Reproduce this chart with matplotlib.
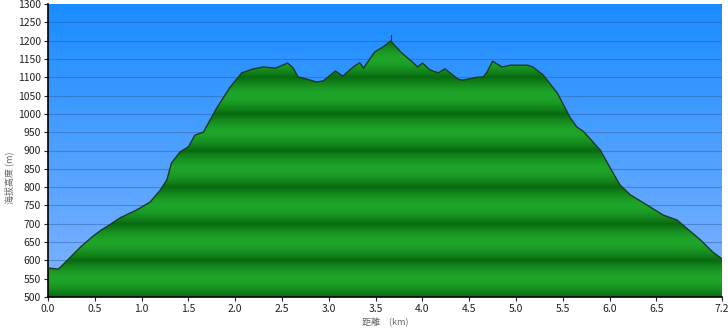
import numpy as np
import matplotlib
matplotlib.use("Agg")
import matplotlib.pyplot as plt
from matplotlib.colors import LinearSegmentedColormap

plt.rcParams['font.family'] = ['Noto Sans CJK TC', 'DejaVu Sans']

dist = [0.0, 0.05, 0.11, 0.21, 0.35, 0.48, 0.57, 0.64, 0.77, 0.95, 1.09, 1.2,
        1.27, 1.32, 1.41, 1.5, 1.57, 1.66, 1.8, 1.94, 2.07, 2.18, 2.3, 2.43,
        2.48, 2.56, 2.62, 2.67, 2.72, 2.87, 2.94, 3.07, 3.15, 3.26, 3.33, 3.37,
        3.49, 3.58, 3.66, 3.78, 3.89, 3.95, 4.0, 4.08, 4.17, 4.24, 4.38, 4.43,
        4.58, 4.65, 4.69, 4.75, 4.85, 4.94, 5.12, 5.18, 5.29, 5.44, 5.58, 5.65,
        5.72, 5.9, 6.0, 6.11, 6.22, 6.4, 6.57, 6.72, 6.78, 6.97, 7.1, 7.2]
alt = [579, 578, 576, 601, 637, 666, 683, 694, 716, 738, 759, 792,
       820, 866, 896, 910, 942, 950, 1015, 1071, 1112, 1122, 1128, 1125,
       1130, 1139, 1125, 1101, 1098, 1087, 1090, 1117, 1103, 1128, 1140, 1125,
       1169, 1183, 1199, 1166, 1142, 1128, 1139, 1120, 1112, 1123, 1095, 1092,
       1100, 1101, 1114, 1144, 1128, 1133, 1133, 1128, 1106, 1057, 989, 964,
       952, 901, 855, 806, 779, 751, 724, 710, 697, 656, 623, 604]

x_ticks = [0.0, 0.5, 1.0, 1.5, 2.0, 2.5, 3.0, 3.5, 4.0, 4.5, 5.0, 5.5, 6.0, 6.5, 7.2]
y_ticks = list(range(500, 1301, 50))

fig = plt.figure(figsize=(7.28, 3.28), dpi=100)
ax = fig.add_axes([48 / 728, 31 / 328, 674 / 728, 293 / 328])
ax.set_xlim(0, 7.2)
ax.set_ylim(500, 1300)

# ciel en dégradé
sky = LinearSegmentedColormap.from_list("sky", ["#82b4ff", "#1a8cff"])
ax.imshow(np.linspace(0, 1, 256).reshape(-1, 1), cmap=sky, origin="lower",
          extent=[0, 7.2, 500, 1300], aspect="auto", zorder=0)

# lignes de grille
for v in y_ticks[1:-1]:
    ax.axhline(v, color="#2a5a9a", lw=0.8, alpha=0.45, zorder=1)

# relief avec bandes vertes (sombre aux centaines, clair aux cinquantaines)
yy = np.linspace(500, 1300, 1600)
band = np.abs((yy % 100) - 50) / 50.0
band = band ** 1.6
green = LinearSegmentedColormap.from_list("green", ["#1fa52a", "#086a10"])
im = ax.imshow(band.reshape(-1, 1), cmap=green, origin="lower",
               extent=[0, 7.2, 500, 1300], aspect="auto", zorder=2)
poly = ax.fill_between(dist, alt, 500, color="none", lw=0, zorder=2)
im.set_clip_path(poly.get_paths()[0], transform=ax.transData)
ax.plot(dist, alt, color="#1c3a22", lw=1.0, zorder=3)

# repère du sommet
i_top = int(np.argmax(alt))
ax.plot([dist[i_top], dist[i_top]], [alt[i_top], alt[i_top] + 15],
        color="#1c3a22", lw=0.8, zorder=3)

ax.set_xticks(x_ticks)
ax.set_xticklabels(["%.1f" % t for t in x_ticks])
ax.set_yticks(y_ticks)
ax.tick_params(labelsize=7.5, colors="#222222", length=3, width=0.8, pad=2)
for side in ["top", "right"]:
    ax.spines[side].set_visible(False)
ax.spines["left"].set_linewidth(1.2)
ax.spines["bottom"].set_linewidth(1.2)

fig.text(385 / 728, 1 / 328, "距離　(km)", ha="center", va="bottom",
         fontsize=6.5, color="#666666")
fig.text(9 / 728, 150 / 328, "海拔高度 (m)", ha="center", va="center",
         rotation=90, fontsize=6.5, color="#666666")

fig.savefig("out.png", dpi=100)
